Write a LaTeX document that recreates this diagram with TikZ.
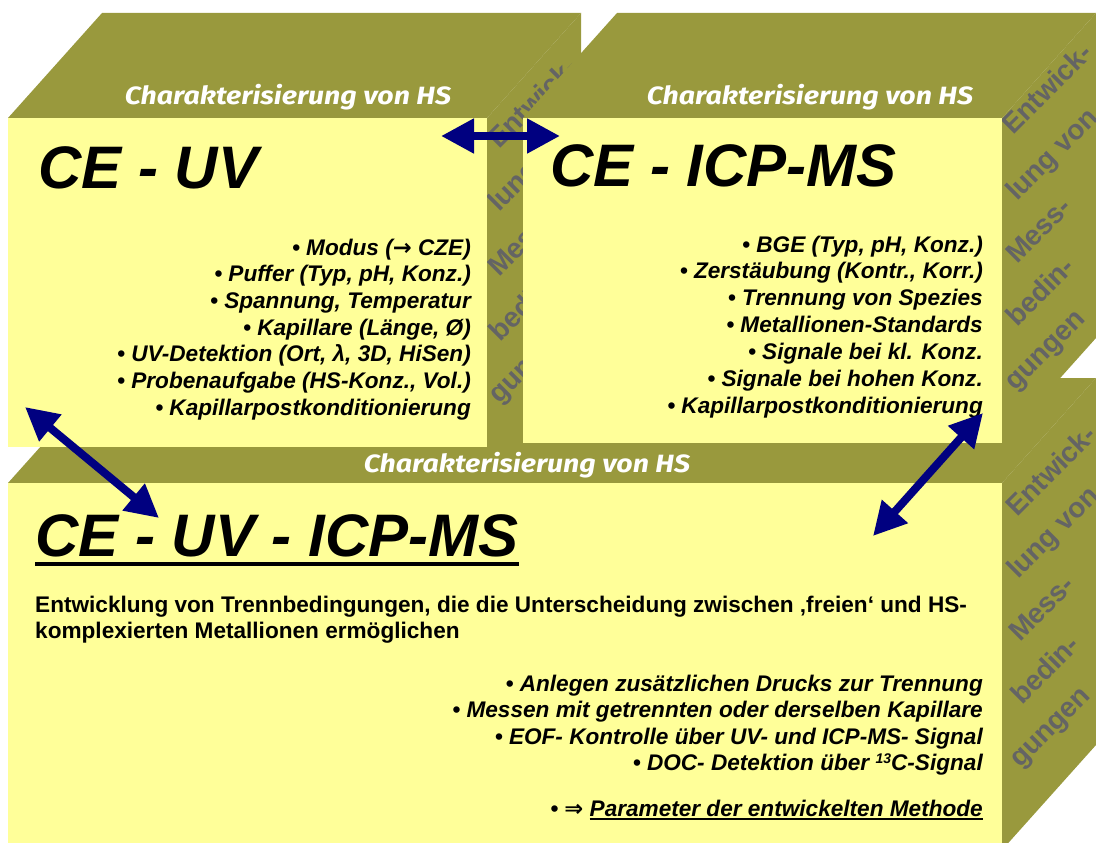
\documentclass[tikz,border=0pt]{standalone}
\usepackage{fontspec}
\setmainfont{Liberation Sans}
\newfontfamily\hsfont{Fira Sans}
\newfontfamily\djv{DejaVu Sans}
\usetikzlibrary{arrows.meta}
\definecolor{olivethreed}{RGB}{153,153,61}
\definecolor{frontyel}{RGB}{255,255,153}
\definecolor{navyarr}{RGB}{0,0,128}
\definecolor{sidegray}{RGB}{100,100,100}
\newcommand\ulx[1]{\setbox0\hbox{#1}\rlap{\rule[-3.5pt]{\wd0}{1.6pt}}\box0}
\newcommand\hstext{\scalebox{1.14}[1]{Charakterisierung von HS}}
\begin{document}
\begin{tikzpicture}[x=1pt,y=-1pt,
  olvface/.style={fill=olivethreed},
  yelface/.style={fill=frontyel},
  hstitle/.style={text=white,font=\hsfont\bfseries\itshape\fontsize{25}{28}\selectfont,inner sep=0,anchor=base},
  sidetxt/.style={text=sidegray,font=\bfseries\fontsize{28}{30}\selectfont,rotate=45,anchor=base west,inner sep=0},
  listitem/.style={font=\bfseries\itshape\fontsize{22.6}{26}\selectfont,anchor=base east,inner sep=0},
  bigtitle/.style={font=\bfseries\itshape\fontsize{60}{66}\selectfont,anchor=base west,inner sep=0},
  para/.style={font=\bfseries\fontsize{22.6}{26}\selectfont,anchor=base west,inner sep=0},
  dblarrow/.style={draw=navyarr,line width=8pt,{Triangle[length=33pt,width=33pt]}-{Triangle[length=33pt,width=33pt]}}
]
\useasboundingbox (0,0) rectangle (1096,843);
\fill[white] (0,0) rectangle (1096,843);

% ---------- box 3 (bottom) ----------
\path[olvface] (8,483) -- (102,378) -- (1096,378) -- (1002,483) -- cycle;
\path[olvface] (1002,483) -- (1096,378) -- (1096,745) -- (1002,850) -- cycle;
\path[yelface] (8,483) rectangle (1002,850);
\begin{scope}
  \clip (1002,483) -- (1096,378) -- (1096,745) -- (1002,850) -- cycle;
  \node[sidetxt] (s3a) at (1017,518) {Entwick-};
  \node[sidetxt] (s3b) at (1018,580) {lung von};
  \node[sidetxt] (s3c) at (1020,643) {Mess-};
  \node[sidetxt] (s3d) at (1022,706) {bedin-};
  \node[sidetxt] (s3e) at (1020,769) {gungen};
\end{scope}
\node[hstitle] (h3) at (527,472) {\hstext};
\node[bigtitle] (t3) at (35,556) {CE - UV - ICP-MS};
\draw[line width=4pt] ([yshift=-8pt]t3.base west) -- ([yshift=-8pt]t3.base east);
\node[para] (p1) at (35,612) {Entwicklung von Trennbedingungen, die die Unterscheidung zwischen ‚freien‘ und HS-};
\node[para] (p2) at (35,638) {komplexierten Metallionen ermöglichen};
\node[listitem] (c1) at (983,691) {• Anlegen zusätzlichen Drucks zur Trennung};
\node[listitem] (c2) at (983,717) {• Messen mit getrennten oder derselben Kapillare};
\node[listitem] (c3) at (983,744) {• EOF- Kontrolle über UV- und ICP-MS- Signal};
\node[listitem] (c4) at (983,770) {• DOC- Detektion über {\fontsize{14}{16}\selectfont\raisebox{7pt}{13}}C-Signal};
\node[listitem] (c5) at (983,816) {• {\djv\bfseries ⇒} \ulx{Parameter der entwickelten Methode}};

% ---------- box 1 (top left) ----------
\path[olvface] (8,118) -- (102,13) -- (581,13) -- (487,118) -- cycle;
\path[olvface] (487,118) -- (581,13) -- (581,342) -- (487,447) -- cycle;
\begin{scope}
  \clip (487,118) -- (581,13) -- (581,342) -- (487,447) -- cycle;
  \node[sidetxt] (s1a) at (499,150) {Entwick-};
  \node[sidetxt] (s1b) at (499,213) {lung von};
  \node[sidetxt] (s1c) at (499,278) {Mess-};
  \node[sidetxt] (s1d) at (500,343) {bedin-};
  \node[sidetxt] (s1e) at (499,405) {gungen};
\end{scope}
\path[yelface] (8,118) rectangle (487,447);
\node[hstitle] (h1) at (288,104) {\hstext};
\node[bigtitle] (t1) at (38,188) {CE - UV};
\node[listitem] (a1) at (471,255) {• Modus ({\djv\bfseries →} CZE)};
\node[listitem] (a2) at (471,281) {• Puffer (Typ, pH, Konz.)};
\node[listitem] (a3) at (471,308) {• Spannung, Temperatur};
\node[listitem] (a4) at (471,335) {• Kapillare (Länge, Ø)};
\node[listitem] (a5) at (471,361) {• UV-Detektion (Ort, λ, 3D, HiSen)};
\node[listitem] (a6) at (471,388) {• Probenaufgabe (HS-Konz., Vol.)};
\node[listitem] (a7) at (471,415) {• Kapillarpostkonditionierung};

% ---------- box 2 (top right) ----------
\path[olvface] (523,118) -- (617,13) -- (1096,13) -- (1002,118) -- cycle;
\path[olvface] (1002,118) -- (1096,13) -- (1096,338) -- (1002,443) -- cycle;
\begin{scope}
  \clip (1002,118) -- (1096,13) -- (1096,338) -- (1002,443) -- cycle;
  \node[sidetxt] (s2a) at (1013,136) {Entwick-};
  \node[sidetxt] (s2b) at (1017,202) {lung von};
  \node[sidetxt] (s2c) at (1017,265) {Mess-};
  \node[sidetxt] (s2d) at (1017,328) {bedin-};
  \node[sidetxt] (s2e) at (1015,392) {gungen};
\end{scope}
\path[yelface] (523,118) rectangle (1002,443);
\node[hstitle] (h2) at (810,104) {\hstext};
\node[bigtitle] (t2) at (550,186) {CE - ICP-MS};
\node[listitem] (b1) at (983,252) {• BGE (Typ, pH, Konz.)};
\node[listitem] (b2) at (983,278) {• Zerstäubung (Kontr., Korr.)};
\node[listitem] (b3) at (983,305) {• Trennung von Spezies};
\node[listitem] (b4) at (983,332) {• Metallionen-Standards};
\node[listitem] (b5) at (983,359) {• Signale bei kl. Konz.};
\node[listitem] (b6) at (983,386) {• Signale bei hohen Konz.};
\node[listitem] (b7) at (983,413) {• Kapillarpostkonditionierung};

% ---------- arrows ----------
\coordinate (ar1a) at (441,136);
\coordinate (ar1b) at (560,136);
\coordinate (ar2a) at (25,407);
\coordinate (ar2b) at (159,518);
\coordinate (ar3a) at (983,413);
\coordinate (ar3b) at (873,536);
\draw[dblarrow] (ar1a) -- (ar1b);
\draw[dblarrow] (ar2a) -- (ar2b);
\draw[dblarrow] (ar3a) -- (ar3b);
\end{tikzpicture}
\end{document}
